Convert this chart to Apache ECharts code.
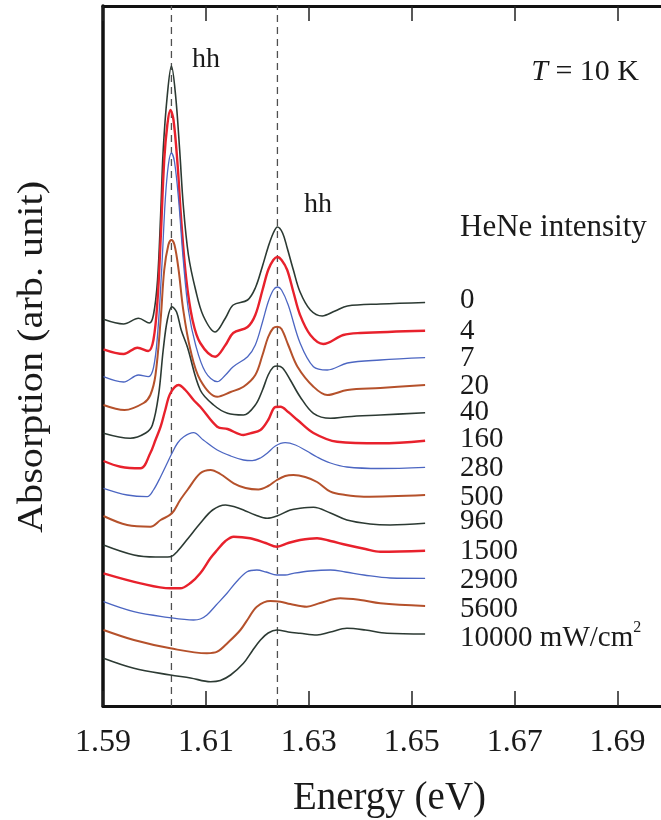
<!DOCTYPE html>
<html>
<head>
<meta charset="utf-8">
<script src="https://cdn.jsdelivr.net/npm/echarts@6/dist/echarts.min.js"></script>
<style>html,body{margin:0;padding:0;background:#fff;}#c{width:661px;height:820px;}</style>
</head>
<body>
<div id="c"></div>
<script>
// ---- data (Energy in eV, absorption in arb. unit incl. vertical offset) ----
const energyTicks = [1.59, 1.61, 1.63, 1.65, 1.67, 1.69];
const intensities = ['0', '4', '7', '20', '40', '160', '280', '500', '960', '1500', '2900', '5600', '10000'];
const peakLines = [1.6033, 1.6239];
const absRange = [0, 70];

const s0 = [[1.5901,38.67],[1.5940,38.2],[1.5969,38.77],[1.5990,38.3],[1.5998,39.1],[1.6006,42.6],[1.6012,49.1],[1.6017,55.6],[1.6025,61.1],[1.6033,64.0],[1.6041,61.1],[1.6049,55.6],[1.6056,50.1],[1.6066,45.1],[1.6080,41.6],[1.6095,39.0],[1.6118,37.4],[1.6138,38.8],[1.6153,40.1],[1.6181,40.6],[1.6196,41.8],[1.6210,44.0],[1.6221,45.9],[1.6231,47.3],[1.6239,47.9],[1.6249,47.3],[1.6258,45.8],[1.6270,43.6],[1.6283,41.4],[1.6303,39.6],[1.6326,39.0],[1.6351,39.5],[1.6375,40.0],[1.6439,40.2],[1.6526,40.35]];
const s4 = [[1.5901,35.67],[1.5940,35.2],[1.5967,35.83],[1.5988,35.5],[1.5998,36.6],[1.6006,40.6],[1.6012,46.6],[1.6019,54.6],[1.6025,58.1],[1.6031,59.6],[1.6037,58.6],[1.6045,54.1],[1.6052,48.6],[1.6062,42.6],[1.6074,38.6],[1.6089,36.3],[1.6118,34.93],[1.6138,36.1],[1.6153,37.3],[1.6181,37.9],[1.6196,39.1],[1.6210,41.6],[1.6221,43.6],[1.6231,44.6],[1.6239,44.9],[1.6247,44.6],[1.6258,43.6],[1.6270,41.4],[1.6283,39.1],[1.6303,37.1],[1.6328,36.2],[1.6367,37.1],[1.6400,37.3],[1.6526,37.53]];
const s7 = [[1.5901,32.93],[1.5940,32.4],[1.5969,33.1],[1.5988,32.93],[1.5998,33.8],[1.6006,37.1],[1.6014,43.6],[1.6021,50.6],[1.6027,54.1],[1.6033,55.3],[1.6039,54.4],[1.6047,50.6],[1.6056,44.6],[1.6066,39.6],[1.6080,36.1],[1.6099,33.4],[1.6122,32.43],[1.6138,33.1],[1.6153,33.93],[1.6181,34.93],[1.6196,36.1],[1.6210,38.4],[1.6221,40.4],[1.6231,41.6],[1.6239,41.9],[1.6247,41.6],[1.6260,40.1],[1.6283,36.3],[1.6309,33.93],[1.6336,33.6],[1.6375,34.3],[1.6439,34.6],[1.6526,34.83]];
const s20 = [[1.5901,30.1],[1.5942,29.6],[1.5979,30.3],[1.5992,31.1],[1.6002,33.1],[1.6012,38.6],[1.6019,43.6],[1.6027,46.1],[1.6033,46.6],[1.6039,46.1],[1.6047,43.6],[1.6056,39.6],[1.6070,35.6],[1.6089,32.6],[1.6122,30.93],[1.6148,31.4],[1.6173,31.93],[1.6196,33.1],[1.6210,35.1],[1.6221,36.9],[1.6231,37.8],[1.6239,37.93],[1.6247,37.7],[1.6260,36.1],[1.6278,33.93],[1.6309,31.93],[1.6336,31.1],[1.6375,31.6],[1.6439,31.8],[1.6526,32.1]];
const s40 = [[1.5901,27.27],[1.5953,26.77],[1.5983,27.3],[1.5996,28.1],[1.6008,31.1],[1.6017,35.6],[1.6025,38.6],[1.6034,39.93],[1.6043,39.4],[1.6052,37.6],[1.6064,35.9],[1.6089,31.6],[1.6115,30.1],[1.6142,29.27],[1.6173,29.1],[1.6196,30.1],[1.6210,31.6],[1.6221,33.1],[1.6231,33.9],[1.6239,34.0],[1.6249,33.8],[1.6264,32.6],[1.6283,30.93],[1.6309,29.27],[1.6342,28.77],[1.6375,28.93],[1.6439,29.1],[1.6526,29.33]];
const s160 = [[1.5901,24.5],[1.5934,23.93],[1.5973,23.77],[1.5992,25.3],[1.6002,26.6],[1.6012,27.93],[1.6021,29.6],[1.6031,31.27],[1.6047,32.1],[1.6060,31.6],[1.6076,30.6],[1.6089,29.93],[1.6122,27.93],[1.6142,27.7],[1.6173,27.1],[1.6186,27.27],[1.6206,27.6],[1.6221,28.6],[1.6235,29.9],[1.6245,29.93],[1.6260,29.4],[1.6278,28.6],[1.6309,27.3],[1.6355,26.43],[1.6439,26.27],[1.6526,26.53]];
const s280 = [[1.5901,21.77],[1.5947,21.1],[1.5986,20.93],[1.5998,21.6],[1.6012,22.93],[1.6023,24.1],[1.6034,25.27],[1.6045,26.3],[1.6057,26.93],[1.6076,27.33],[1.6095,26.6],[1.6122,25.6],[1.6148,25.0],[1.6173,24.6],[1.6190,24.53],[1.6206,24.8],[1.6219,25.27],[1.6235,26.0],[1.6254,26.33],[1.6274,26.1],[1.6296,25.5],[1.6316,24.9],[1.6342,24.3],[1.6374,23.9],[1.6439,23.75],[1.6526,23.87]];
const s500 = [[1.5901,19.0],[1.5947,18.1],[1.5992,17.93],[1.6012,18.6],[1.6034,19.27],[1.6050,20.6],[1.6064,21.6],[1.6089,23.27],[1.6109,23.6],[1.6128,23.2],[1.6154,22.27],[1.6177,21.8],[1.6202,21.65],[1.6221,22.0],[1.6238,22.6],[1.6254,23.0],[1.6270,23.1],[1.6293,22.9],[1.6316,22.4],[1.6342,21.43],[1.6371,21.1],[1.6407,20.93],[1.6526,21.1]];
const s960 = [[1.5901,16.1],[1.5960,15.1],[1.6002,14.9],[1.6031,14.93],[1.6044,15.43],[1.6066,16.8],[1.6089,18.27],[1.6113,19.6],[1.6138,20.1],[1.6157,19.9],[1.6173,19.6],[1.6196,19.1],[1.6219,18.77],[1.6238,19.0],[1.6264,19.6],[1.6283,19.77],[1.6309,19.87],[1.6342,19.3],[1.6374,18.6],[1.6419,18.2],[1.6458,18.1],[1.6526,18.27]];
const s1500 = [[1.5901,13.27],[1.5973,12.27],[1.6031,11.77],[1.6050,11.77],[1.6070,12.3],[1.6089,13.27],[1.6109,14.8],[1.6122,15.6],[1.6138,16.5],[1.6154,16.93],[1.6186,16.77],[1.6216,16.3],[1.6238,15.93],[1.6260,16.3],[1.6283,16.6],[1.6316,16.77],[1.6342,16.5],[1.6374,16.1],[1.6410,15.7],[1.6439,15.43],[1.6526,15.53]];
const s2900 = [[1.5901,10.43],[1.5960,9.43],[1.6025,8.87],[1.6076,8.6],[1.6089,8.7],[1.6102,9.1],[1.6120,10.1],[1.6141,11.27],[1.6159,12.4],[1.6180,13.43],[1.6199,13.6],[1.6217,13.4],[1.6238,13.1],[1.6254,13.1],[1.6270,13.27],[1.6303,13.5],[1.6342,13.6],[1.6371,13.4],[1.6407,13.1],[1.6458,12.8],[1.6526,12.77]];
const s5600 = [[1.5901,7.6],[1.5960,6.6],[1.6031,5.77],[1.6102,5.27],[1.6122,5.43],[1.6144,6.4],[1.6167,7.6],[1.6183,8.8],[1.6199,9.93],[1.6225,10.5],[1.6245,10.43],[1.6264,10.2],[1.6296,9.93],[1.6322,10.3],[1.6361,10.77],[1.6400,10.6],[1.6439,10.27],[1.6526,10.0]];
const s10000 = [[1.5901,4.77],[1.5960,3.77],[1.6031,3.1],[1.6070,2.8],[1.6109,2.43],[1.6128,2.55],[1.6148,3.1],[1.6173,4.27],[1.6190,5.5],[1.6206,6.6],[1.6221,7.3],[1.6238,7.6],[1.6260,7.4],[1.6283,7.27],[1.6316,7.1],[1.6342,7.4],[1.6374,7.77],[1.6410,7.6],[1.6452,7.27],[1.6526,7.2]];

const curves = [s0, s4, s7, s20, s40, s160, s280, s500, s960, s1500, s2900, s5600, s10000];

// ---- styles ----
const FONT = 'Liberation Serif';
const lineColors = ['#2c3a33', '#e8212c', '#4c66c2', '#b5512b'];
const lineWidths = [1.6, 2.4, 1.3, 2.0];
const labelDy = [-2, 1, 1, 1, 0, -1, 1, 2, -1.5, 1, 2, 3, 4];

const series = [];
// dashed guide lines at the hh peak energies
peakLines.forEach(v => {
  series.push({
    type: 'line', data: [[v, absRange[0]], [v, absRange[1]]], symbol: 'none', silent: true,
    lineStyle: { color: '#505050', width: 1.3, type: [7, 5] }, z: 2
  });
});
curves.forEach((d, i) => {
  const k = i % 4;
  series.push({
    type: 'line',
    data: d,
    smooth: 0.35,
    symbol: 'none',
    silent: true,
    lineStyle: { color: lineColors[k], width: lineWidths[k] },
    endLabel: {
      show: true,
      distance: 35,
      offset: [0, labelDy[i]],
      color: '#1a1a1a',
      fontFamily: FONT,
      fontSize: 29,
      formatter: i === curves.length - 1 ? intensities[i] + ' mW/cm{sup|2}' : intensities[i],
      rich: { sup: { fontFamily: FONT, fontSize: 16, color: '#1a1a1a', padding: [0, 0, 20, 0] } }
    },
    z: 3
  });
});

const chart = echarts.init(document.getElementById('c'), null, { renderer: 'canvas' });
chart.setOption({
  animation: false,
  backgroundColor: '#ffffff',
  grid: { left: 103, top: 6, width: 566, height: 700, containLabel: false, outerBoundsMode: 'none' },
  xAxis: [
    {
      type: 'value', min: 1.59, max: 1.70, position: 'bottom',
      name: 'Energy (eV)', nameLocation: 'middle', nameGap: 73,
      nameTextStyle: { fontFamily: FONT, fontSize: 39, color: '#1a1a1a', padding: [0, 0, 0, 7] },
      axisLine: { show: true, lineStyle: { color: '#111', width: 3 } },
      axisTick: { show: true, inside: true, length: 15, customValues: energyTicks, lineStyle: { color: '#222', width: 1.5 } },
      axisLabel: { show: true, customValues: energyTicks, margin: 21, fontFamily: FONT, fontSize: 32, color: '#1a1a1a',
        formatter: v => v.toFixed(2) },
      splitLine: { show: false }
    },
    {
      type: 'value', min: 1.59, max: 1.70, position: 'top',
      axisLine: { show: true, lineStyle: { color: '#111', width: 3 } },
      axisTick: { show: true, inside: true, length: 15, customValues: energyTicks, lineStyle: { color: '#222', width: 1.5 } },
      axisLabel: { show: true, customValues: energyTicks, formatter: () => '' },
      splitLine: { show: false }
    }
  ],
  yAxis: {
    type: 'value', min: absRange[0], max: absRange[1],
    axisLine: { show: true, onZero: false, lineStyle: { color: '#111', width: 3.5 } },
    axisTick: { show: false }, axisLabel: { show: false }, splitLine: { show: false }
  },
  graphic: [
    { type: 'text', x: 33, y: 357, rotation: Math.PI / 2, scaleX: 1.15,
      style: { text: 'Absorption (arb. unit)', fontFamily: FONT, fontSize: 35, fill: '#1a1a1a', align: 'center', verticalAlign: 'middle' } },
    { type: 'text', x: 206, y: 60,
      style: { text: 'hh', fontFamily: FONT, fontSize: 28, fill: '#1a1a1a', align: 'center', verticalAlign: 'middle' } },
    { type: 'text', x: 318, y: 205,
      style: { text: 'hh', fontFamily: FONT, fontSize: 28, fill: '#1a1a1a', align: 'center', verticalAlign: 'middle' } },
    { type: 'text', x: 460, y: 228,
      style: { text: 'HeNe intensity', fontFamily: FONT, fontSize: 31, fill: '#1a1a1a', align: 'left', verticalAlign: 'middle' } },
    { type: 'text', x: 639, y: 72,
      style: { text: '{i|T} = 10 K', fontFamily: FONT, fontSize: 30, fill: '#1a1a1a', align: 'right', verticalAlign: 'middle',
        rich: { i: { fontFamily: FONT, fontStyle: 'italic', fontSize: 30, fill: '#1a1a1a' } } } }
  ],
  series: series
});
</script>
</body>
</html>
